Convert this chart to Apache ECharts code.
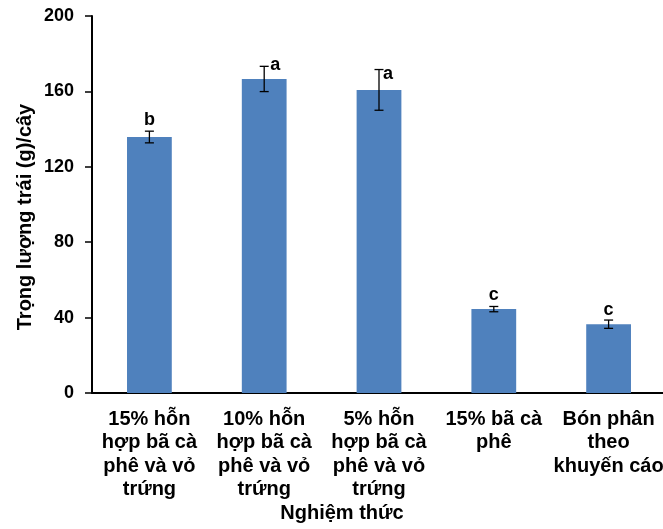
<!DOCTYPE html>
<html>
<head>
<meta charset="utf-8">
<script src="https://cdn.jsdelivr.net/npm/echarts@6/dist/echarts.min.js"></script>
<style>
  html, body { margin: 0; padding: 0; background: #fff; overflow: hidden; }
  #chart { width: 670px; height: 529px; }
</style>
</head>
<body>
<div id="chart"></div>
<script>
// Treatments (x-axis categories)
const categories = [
  '15% hỗn\nhợp bã cà\nphê và vỏ\ntrứng',
  '10% hỗn\nhợp bã cà\nphê và vỏ\ntrứng',
  '5% hỗn\nhợp bã cà\nphê và vỏ\ntrứng',
  '15% bã cà\nphê',
  'Bón phân\ntheo\nkhuyến cáo'
];
// Mean fruit weight per plant (g)
const means = [135.8, 166.6, 160.8, 44.5, 36.5];
// Standard error of each mean
const errors = [3.1, 6.7, 10.8, 1.4, 2.2];
// Significance letters
const letters = ['b', 'a', 'a', 'c', 'c'];
// Letter offsets relative to each bar top, so they clear the error bars
const letterOffsets = [[0, -8], [11, -5], [9, -7], [0, -5.5], [0, -5.5]];
// Y-axis ticks
const yMin = 0, yMax = 200, yStep = 40;

const FONT = '"Liberation Sans", Arial, sans-serif';

const chart = echarts.init(document.getElementById('chart'), null, { renderer: 'canvas' });

const barData = means.map((v, i) => ({
  value: v,
  label: {
    show: true,
    position: 'top',
    distance: 0,
    offset: letterOffsets[i],
    formatter: letters[i],
    fontFamily: FONT,
    fontWeight: 'bold',
    fontSize: 18,
    color: '#000'
  }
}));

const errData = means.map((v, i) => [i, v - errors[i], v + errors[i]]);

chart.setOption({
  animation: false,
  backgroundColor: '#fff',
  grid: { left: 92, right: 4, top: 16, bottom: 136, containLabel: false },
  xAxis: {
    type: 'category',
    data: categories,
    axisLine: { lineStyle: { color: '#000', width: 2 } },
    axisTick: { show: false },
    axisLabel: {
      interval: 0,
      margin: 15,
      lineHeight: 23.3,
      fontFamily: FONT,
      fontWeight: 'bold',
      fontSize: 20,
      color: '#000'
    },
    splitLine: { show: false }
  },
  yAxis: {
    type: 'value',
    min: yMin,
    max: yMax,
    interval: yStep,
    axisLine: { show: true, lineStyle: { color: '#000', width: 2 } },
    axisTick: { show: true, inside: false, length: 7, lineStyle: { color: '#000', width: 1.5 } },
    axisLabel: { margin: 18, fontFamily: FONT, fontWeight: 'bold', fontSize: 18, color: '#000' },
    splitLine: { show: false }
  },
  graphic: [
    {
      type: 'text',
      x: 342,
      y: 513,
      style: {
        text: 'Nghiệm thức',
        font: 'bold 20px ' + FONT,
        fill: '#000',
        align: 'center',
        verticalAlign: 'middle'
      }
    },
    {
      type: 'text',
      x: 25,
      y: 217,
      rotation: Math.PI / 2,
      style: {
        text: 'Trọng lượng trái (g)/cây',
        font: 'bold 20px ' + FONT,
        fill: '#000',
        align: 'center',
        verticalAlign: 'middle'
      }
    }
  ],
  series: [
    {
      type: 'bar',
      data: barData,
      barWidth: '39%',
      itemStyle: { color: '#4F81BD' },
      z: 2
    },
    {
      type: 'custom',
      data: errData,
      z: 5,
      renderItem: function (params, api) {
        const x = api.value(0);
        const lo = api.coord([x, api.value(1)]);
        const hi = api.coord([x, api.value(2)]);
        const cap = 4.5;
        const style = { stroke: '#000', lineWidth: 1.3 };
        return {
          type: 'group',
          children: [
            { type: 'line', shape: { x1: lo[0], y1: lo[1], x2: hi[0], y2: hi[1] }, style },
            { type: 'line', shape: { x1: lo[0] - cap, y1: lo[1], x2: lo[0] + cap, y2: lo[1] }, style },
            { type: 'line', shape: { x1: hi[0] - cap, y1: hi[1], x2: hi[0] + cap, y2: hi[1] }, style }
          ]
        };
      }
    }
  ]
});
</script>
</body>
</html>
